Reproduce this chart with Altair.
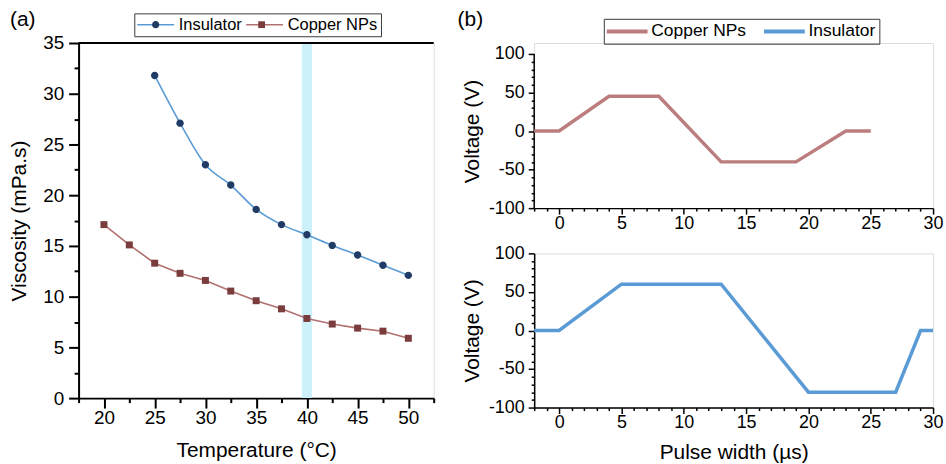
import altair as alt
import pandas as pd

FONT = "Liberation Sans"

# ---------------- panel (a): viscosity vs temperature ----------------
series_a = ["Insulator", "Copper NPs"]
temp_ins = [25, 27.5, 30, 32.5, 35, 37.5, 40, 42.5, 45, 47.5, 50]
visc_ins = [31.8, 27.1, 23.0, 21.0, 18.6, 17.1, 16.1, 15.05, 14.1, 13.1, 12.1]
temp_cu = [20, 22.5, 25, 27.5, 30, 32.5, 35, 37.5, 40, 42.5, 45, 47.5, 50]
visc_cu = [17.1, 15.1, 13.3, 12.3, 11.6, 10.55, 9.6, 8.8, 7.85, 7.3, 6.9, 6.6, 5.9]
band_start = [39.5]
band_end = [40.5]
x_a_domain = [17.5, 52.5]
y_a_domain = [0, 35]
a_x_major = [20, 25, 30, 35, 40, 45, 50]
a_x_minor = [17.5, 22.5, 27.5, 32.5, 37.5, 42.5, 47.5, 52.5]
a_y_major = [0, 5, 10, 15, 20, 25, 30, 35]
a_y_minor = [2.5, 7.5, 12.5, 17.5, 22.5, 27.5, 32.5]
label_a = ["(a)"]

# ---------------- panel (b): voltage pulses ----------------
series_b = ["Copper NPs", "Insulator"]
pulse_t_cu = [-2, 0, 4, 8, 13, 19, 23, 25]
volt_cu = [0, 0, 45, 45, -40, -40, 0, 0]
pulse_t_ins = [-2, 0, 5, 13, 20, 27, 29, 30]
volt_ins = [0, 0, 60, 60, -80, -80, 0, 0]
x_b_domain = [-2, 30]
y_b_domain = [-100, 100]
y_b_top_domain = [-100, 114.2]   # extra head-room above the top panel (axis line stops at 100)
b_x_major = [0, 5, 10, 15, 20, 25, 30]
b_x_minor = [-2, -1, 1, 2, 3, 4, 6, 7, 8, 9, 11, 12, 13, 14, 16, 17, 18, 19,
             21, 22, 23, 24, 26, 27, 28, 29]
b_y_major = [-100, -50, 0, 50, 100]
b_y_minor = [-90, -80, -70, -60, -40, -30, -20, -10, 10, 20, 30, 40, 60, 70, 80, 90]
label_b = ["(b)"]

# colours
INS_LINE = "#5b9bd5"
INS_MARK = "#1f3b66"
CU_LINE = "#b27070"
CU_MARK = "#7a3c3c"
BAND = "#cdf1fb"
CU_B = "#bb7d7d"
INS_B = "#5b9bd5"

df_a = pd.DataFrame({
    "temp": temp_ins + temp_cu,
    "visc": visc_ins + visc_cu,
    "series": [series_a[0]] * len(temp_ins) + [series_a[1]] * len(temp_cu),
})
df_band = pd.DataFrame({"start": band_start, "end": band_end,
                        "bottom": [y_a_domain[0]], "top": [y_a_domain[1]]})
df_b_cu = pd.DataFrame({"t": pulse_t_cu, "v": volt_cu, "series": ["Copper NPs"] * len(pulse_t_cu)})
df_b_ins = pd.DataFrame({"t": pulse_t_ins, "v": volt_ins, "series": ["Insulator"] * len(pulse_t_ins)})
df_b_axis = pd.DataFrame({"x0": [x_b_domain[0]], "y0": [y_b_domain[0]], "y1": [y_b_domain[1]]})


def axis_major(values, tick_size, width, label_size, label_pad, orient,
               title=None, title_size=21, title_pad=4, **extra):
    kw = dict(values=values, orient=orient, tickSize=tick_size, tickWidth=width,
              tickColor="black", domain=True, domainWidth=width, domainColor="black",
              grid=False, labelFont=FONT, labelFontSize=label_size, labelColor="black",
              labelPadding=label_pad, labelFlush=False, labelOverlap=False,
              labelExpr="toString(datum.value)")
    if title is not None:
        kw.update(title=title, titleFont=FONT, titleFontSize=title_size,
                  titleFontWeight="normal", titleColor="black", titlePadding=title_pad)
    else:
        kw["title"] = None
    kw.update(extra)
    return alt.Axis(**kw)


def axis_minor(values, tick_size, width, orient):
    return alt.Axis(values=values, orient=orient, tickSize=tick_size, tickWidth=width,
                    tickColor="black", domain=False, labels=False, grid=False, title=None)


def panel_label(labels, dx, dy):
    return alt.Chart(pd.DataFrame({"label": labels})).mark_text(
        align="left", baseline="top", font=FONT, fontSize=21, color="black"
    ).encode(x=alt.value(dx), y=alt.value(dy), text="label:N")


# ---------------- build panel (a) ----------------
xa = alt.Scale(domain=x_a_domain, nice=False, zero=False)
ya = alt.Scale(domain=y_a_domain, nice=False, zero=False)
color_a = alt.Scale(domain=series_a, range=[INS_LINE, CU_LINE])

PATH_CIRCLE = "M-0.72,0A0.72,0.72,0,1,1,0.72,0A0.72,0.72,0,1,1,-0.72,0Z"
PATH_SQUARE = "M-0.68,-0.68L0.68,-0.68L0.68,0.68L-0.68,0.68Z"
marker_domain = series_a + [" "]

legend_common = dict(
    orient="none", legendX=56, legendY=-29.8, direction="horizontal", title=None,
    symbolSize=100, symbolOffset=10.25, labelOffset=15, labelFont=FONT,
    labelFontSize=16.5, columnPadding=0.5, padding=3,
)
legend_a_lines = alt.Legend(symbolType="M-3.7,0L3.7,0", symbolStrokeWidth=1.5,
                            labelColor="black", strokeColor="#3a3a3a", zindex=0,
                            **legend_common)
legend_a_marks = alt.Legend(values=series_a, symbolStrokeWidth=0, labelOpacity=0,
                            labelColor="black", zindex=1, **legend_common)

band = alt.Chart(df_band).mark_rect(color=BAND).encode(
    x=alt.X("start:Q", scale=xa, axis=None), x2="end",
    y=alt.Y("bottom:Q", scale=ya, axis=None), y2="top",
)
top_rule = alt.Chart(df_band).mark_rule(color="black", strokeWidth=2).encode(
    y=alt.Y("top:Q", scale=ya, axis=None),
)
line_ins = alt.Chart(df_a).transform_filter(alt.datum.series == "Insulator").mark_line(
    interpolate="monotone", strokeWidth=1.6).encode(
    x=alt.X("temp:Q", scale=xa, axis=axis_major(a_x_major, 10, 2, 19, 1, "bottom",
                                                "Temperature (°C)", 21, 11.5)),
    y=alt.Y("visc:Q", scale=ya, axis=axis_major(a_y_major, 10, 2, 19, 5, "left",
                                                "Viscosity (mPa.s)", 21, 13)),
    color=alt.Color("series:N", scale=color_a, legend=legend_a_lines),
)
line_cu = alt.Chart(df_a).transform_filter(alt.datum.series == "Copper NPs").mark_line(
    strokeWidth=1.6).encode(
    x=alt.X("temp:Q", scale=xa, axis=None),
    y=alt.Y("visc:Q", scale=ya, axis=None),
    color=alt.Color("series:N", scale=color_a, legend=legend_a_lines),
)
points = alt.Chart(df_a).mark_point(filled=True, size=106, opacity=1, strokeWidth=0).encode(
    x=alt.X("temp:Q", scale=xa, axis=None),
    y=alt.Y("visc:Q", scale=ya, axis=None),
    fill=alt.Fill("series:N", scale=alt.Scale(domain=marker_domain,
                                              range=[INS_MARK, CU_MARK, INS_MARK]),
                  legend=legend_a_marks),
    shape=alt.Shape("series:N", scale=alt.Scale(domain=marker_domain,
                                                range=[PATH_CIRCLE, PATH_SQUARE, PATH_CIRCLE]),
                    legend=legend_a_marks),
)
minor_a = alt.Chart(df_a).mark_point(opacity=0).encode(
    x=alt.X("temp:Q", scale=xa, axis=axis_minor(a_x_minor, 4.5, 2, "bottom")),
    y=alt.Y("visc:Q", scale=ya, axis=axis_minor(a_y_minor, 4.5, 2, "left")),
)
panel_a = alt.layer(
    band, top_rule, line_ins, line_cu, points, minor_a, panel_label(label_a, -69, -34.3)
).resolve_axis(x="independent", y="independent").properties(width=357, height=357)

# ---------------- build panel (b) ----------------
xb = alt.Scale(domain=x_b_domain, nice=False, zero=False)
yb = alt.Scale(domain=y_b_domain, nice=False, zero=False)
yb_top = alt.Scale(domain=y_b_top_domain, nice=False, zero=False)
color_b = alt.Scale(domain=series_b, range=[CU_B, INS_B])

legend_b = alt.Legend(
    orient="none", legendX=70, legendY=-24.3, direction="horizontal", title=None,
    symbolType="M-4.1,0L4.1,0", symbolSize=100, symbolStrokeWidth=4,
    symbolOffset=11.25, labelOffset=15.5, labelFont=FONT, labelFontSize=17.5,
    labelColor="black", columnPadding=9, padding=3.5, strokeColor="#3a3a3a",
)

TOP_H = 166
line_b_top = alt.Chart(df_b_cu).mark_line(strokeWidth=3.5).encode(
    x=alt.X("t:Q", scale=xb, axis=axis_major(b_x_major, 6, 1.5, 18, 0.5, "bottom")),
    y=alt.Y("v:Q", scale=yb_top, axis=axis_major(b_y_major, 6, 1.5, 18, 4, "left",
                                                 "Voltage (V)", 21, 6, domain=False,
                                                 titleY=(TOP_H - 155 + TOP_H) / 2)),
    color=alt.Color("series:N", scale=color_b, legend=legend_b),
)
axis_line_top = alt.Chart(df_b_axis).mark_rule(color="black", strokeWidth=1.5).encode(
    x=alt.X("x0:Q", scale=xb, axis=None),
    y=alt.Y("y0:Q", scale=yb_top, axis=None), y2="y1",
)
minor_b_top = alt.Chart(df_b_cu).mark_point(opacity=0).encode(
    x=alt.X("t:Q", scale=xb, axis=axis_minor(b_x_minor, 3, 1.5, "bottom")),
    y=alt.Y("v:Q", scale=yb_top, axis=axis_minor(b_y_minor, 3, 1.5, "left")),
)
top_b = alt.layer(
    axis_line_top, line_b_top, minor_b_top, panel_label(label_b, -77, -34.3)
).resolve_axis(x="independent", y="independent").properties(width=401, height=TOP_H)

line_b_bot = alt.Chart(df_b_ins).mark_line(strokeWidth=3.5).encode(
    x=alt.X("t:Q", scale=xb, axis=axis_major(b_x_major, 6, 1.5, 18, 0.5, "bottom",
                                             "Pulse width (µs)", 21, 10)),
    y=alt.Y("v:Q", scale=yb, axis=axis_major(b_y_major, 6, 1.5, 18, 4, "left",
                                             "Voltage (V)", 21, 6)),
    color=alt.Color("series:N", scale=color_b, legend=None),
)
minor_b_bot = alt.Chart(df_b_ins).mark_point(opacity=0).encode(
    x=alt.X("t:Q", scale=xb, axis=axis_minor(b_x_minor, 3, 1.5, "bottom")),
    y=alt.Y("v:Q", scale=yb, axis=axis_minor(b_y_minor, 3, 1.5, "left")),
)
bot_b = alt.layer(line_b_bot, minor_b_bot).resolve_axis(
    x="independent", y="independent").properties(width=401, height=155)

panel_b = alt.vconcat(top_b, bot_b, spacing=10.5).resolve_scale(color="independent")

chart = alt.hconcat(panel_a, panel_b, spacing=21).resolve_scale(
    color="independent", fill="independent", shape="independent"
).properties(
    padding={"left": 8, "top": 7, "right": 2, "bottom": 0},
    background="white",
).configure_view(stroke=None).configure(font=FONT)

chart.save("out.html", embed_options={"renderer": "svg", "actions": False})
